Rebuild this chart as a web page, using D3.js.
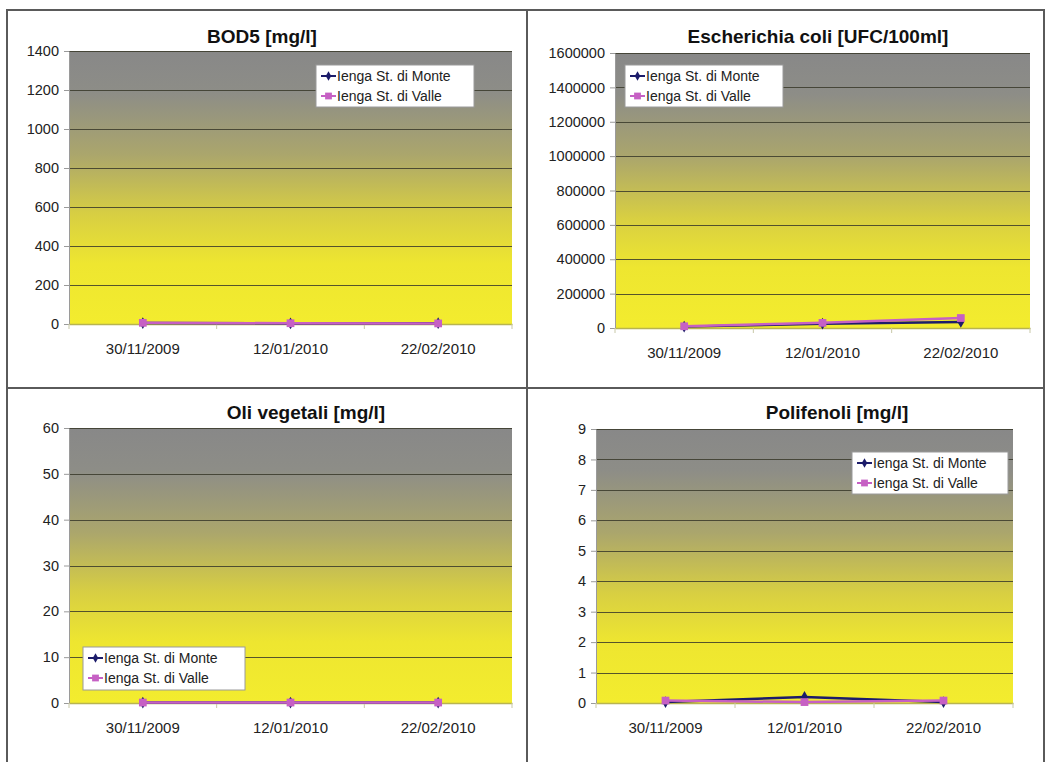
<!DOCTYPE html>
<html>
<head>
<meta charset="utf-8">
<script src="https://cdn.jsdelivr.net/npm/d3@7/dist/d3.min.js"></script>
<style>
  html, body { margin: 0; padding: 0; background: #ffffff; }
  svg { display: block; font-family: "Liberation Sans", Arial, sans-serif; }
</style>
</head>
<body>
<svg id="chart" width="1047" height="762"></svg>
<script>
// Sampling dates shared by all four charts
const dates = ["30/11/2009", "12/01/2010", "22/02/2010"];
const seriesNames = ["Ienga St. di Monte", "Ienga St. di Valle"];

// BOD5 [mg/l]
const bodMonte = [5, 3, 4];
const bodValle = [6, 4, 3];
const bodTicks = [0, 200, 400, 600, 800, 1000, 1200, 1400];

// Escherichia coli [UFC/100ml]
const ecoliMonte = [8000, 25000, 35000];
const ecoliValle = [10000, 30000, 58000];
const ecoliTicks = [0, 200000, 400000, 600000, 800000, 1000000, 1200000, 1400000, 1600000];

// Oli vegetali [mg/l]
const oliMonte = [0.1, 0.1, 0.1];
const oliValle = [0.1, 0.1, 0.1];
const oliTicks = [0, 10, 20, 30, 40, 50, 60];

// Polifenoli [mg/l]
const poliMonte = [0.03, 0.2, 0.03];
const poliValle = [0.08, 0.03, 0.08];
const poliTicks = [0, 1, 2, 3, 4, 5, 6, 7, 8, 9];

// Panel layout: plot rectangle, title anchor and legend box for each chart
const panels = [
  { title: "BOD5 [mg/l]", monte: bodMonte, valle: bodValle, ticks: bodTicks,
    plot: { x0: 69, x1: 512, y0: 51, y1: 324 }, titlePos: [262, 43],
    legend: { x: 316, y: 65, w: 158, h: 42 } },
  { title: "Escherichia coli [UFC/100ml]", monte: ecoliMonte, valle: ecoliValle, ticks: ecoliTicks,
    plot: { x0: 615, x1: 1030, y0: 53, y1: 328 }, titlePos: [818, 43],
    legend: { x: 625, y: 65, w: 158, h: 42 } },
  { title: "Oli vegetali [mg/l]", monte: oliMonte, valle: oliValle, ticks: oliTicks,
    plot: { x0: 69, x1: 512, y0: 428, y1: 703 }, titlePos: [306, 419],
    legend: { x: 83, y: 647, w: 162, h: 43 } },
  { title: "Polifenoli [mg/l]", monte: poliMonte, valle: poliValle, ticks: poliTicks,
    plot: { x0: 596, x1: 1013, y0: 429, y1: 703 }, titlePos: [837, 419],
    legend: { x: 852, y: 452, w: 156, h: 42 } }
];

const colMonte = "#1c1c6a";
const colValle = "#c660c4";

const svg = d3.select("#chart");
const defs = svg.append("defs");

// Plot-area fill: grey at the top fading into yellow at the bottom
const grad = defs.append("linearGradient")
  .attr("id", "bgGrad").attr("x1", 0).attr("y1", 0).attr("x2", 0).attr("y2", 1);
[
  [0, "#888888"], [0.15, "#8d8d87"], [0.38, "#aba66c"],
  [0.6, "#d8cf42"], [0.78, "#eee630"], [1, "#f3ec2e"]
].forEach(([o, c]) => grad.append("stop").attr("offset", o).attr("stop-color", c));

// Page frame: outer border and dividers between the four charts
const frame = svg.append("g").attr("stroke", "#5a5a5a").attr("stroke-width", 2).attr("fill", "none");
frame.append("path").attr("d", "M7,762 V10 H1044 V762");
frame.append("line").attr("x1", 527).attr("x2", 527).attr("y1", 10).attr("y2", 762);
frame.append("line").attr("x1", 7).attr("x2", 1044).attr("y1", 388).attr("y2", 388);

panels.forEach(p => {
  const g = svg.append("g");
  const { x0, x1, y0, y1 } = p.plot;
  const yMax = p.ticks[p.ticks.length - 1];

  const x = d3.scaleBand().domain(dates).range([x0, x1]);
  const y = d3.scaleLinear().domain([0, yMax]).range([y1, y0]);

  // background
  g.append("rect").attr("x", x0).attr("y", y0).attr("width", x1 - x0).attr("height", y1 - y0)
    .attr("fill", "url(#bgGrad)");

  // horizontal gridlines
  g.append("g").selectAll("line").data(p.ticks.filter(t => t > 0)).join("line")
    .attr("x1", x0).attr("x2", x1)
    .attr("y1", d => Math.round(y(d)) + 0.5).attr("y2", d => Math.round(y(d)) + 0.5)
    .attr("stroke", "#3a3a2a").attr("stroke-width", 1).attr("stroke-opacity", 0.85);

  // value axis
  const yAxis = g.append("g").attr("transform", `translate(${x0},0)`)
    .call(d3.axisLeft(y).tickValues(p.ticks).tickFormat(d3.format("d"))
      .tickSize(5).tickSizeOuter(0).tickPadding(5));
  yAxis.select(".domain").attr("stroke", "#9a9a9a");
  yAxis.selectAll(".tick line").attr("stroke", "#9a9a9a");
  yAxis.selectAll("text").attr("font-size", 14.5).attr("fill", "#222");

  // category axis with tick marks between categories
  const xAxis = g.append("g").attr("transform", `translate(0,${y1})`)
    .call(d3.axisBottom(x).tickSize(0).tickPadding(19));
  xAxis.select(".domain").attr("stroke", "#b8b450").attr("stroke-width", 1.5);
  xAxis.selectAll("text").attr("font-size", 15).attr("fill", "#222");
  xAxis.append("g").selectAll("line").data(d3.range(dates.length + 1)).join("line")
    .attr("x1", i => x0 + i * x.step()).attr("x2", i => x0 + i * x.step())
    .attr("y1", 0).attr("y2", 5).attr("stroke", "#c8c8a8");

  // title
  g.append("text").attr("x", p.titlePos[0]).attr("y", p.titlePos[1])
    .attr("text-anchor", "middle").attr("font-weight", "bold").attr("font-size", 19)
    .attr("fill", "#111").text(p.title);

  const cx = d => x(d) + x.bandwidth() / 2;
  const line = d3.line().x(d => cx(d.date)).y(d => y(d.v));

  const series = [
    { name: seriesNames[0], values: p.monte, color: colMonte, shape: d3.symbolDiamond, size: 40 },
    { name: seriesNames[1], values: p.valle, color: colValle, shape: d3.symbolSquare, size: 60 }
  ];

  series.forEach(s => {
    const pts = dates.map((d, i) => ({ date: d, v: s.values[i] }));
    g.append("path").datum(pts).attr("d", line)
      .attr("fill", "none").attr("stroke", s.color).attr("stroke-width", 2.5);
    g.append("g").selectAll("path").data(pts).join("path")
      .attr("transform", d => `translate(${cx(d.date)},${y(d.v)})`)
      .attr("d", d3.symbol().type(s.shape).size(s.size))
      .attr("fill", s.color);
  });

  // legend
  const L = p.legend;
  const lg = g.append("g").attr("transform", `translate(${L.x},${L.y})`);
  lg.append("rect").attr("width", L.w).attr("height", L.h)
    .attr("fill", "#ffffff").attr("stroke", "#9a9a9a").attr("stroke-width", 1);
  series.forEach((s, i) => {
    const ly = 11 + i * 20;
    lg.append("line").attr("x1", 5).attr("x2", 20).attr("y1", ly).attr("y2", ly)
      .attr("stroke", s.color).attr("stroke-width", 2);
    lg.append("path").attr("transform", `translate(12.5,${ly})`)
      .attr("d", d3.symbol().type(s.shape).size(s.size - 14)).attr("fill", s.color);
    lg.append("text").attr("x", 21).attr("y", ly).attr("dy", "0.35em")
      .attr("font-size", 14).attr("fill", "#222").text(s.name);
  });
});
</script>
</body>
</html>
